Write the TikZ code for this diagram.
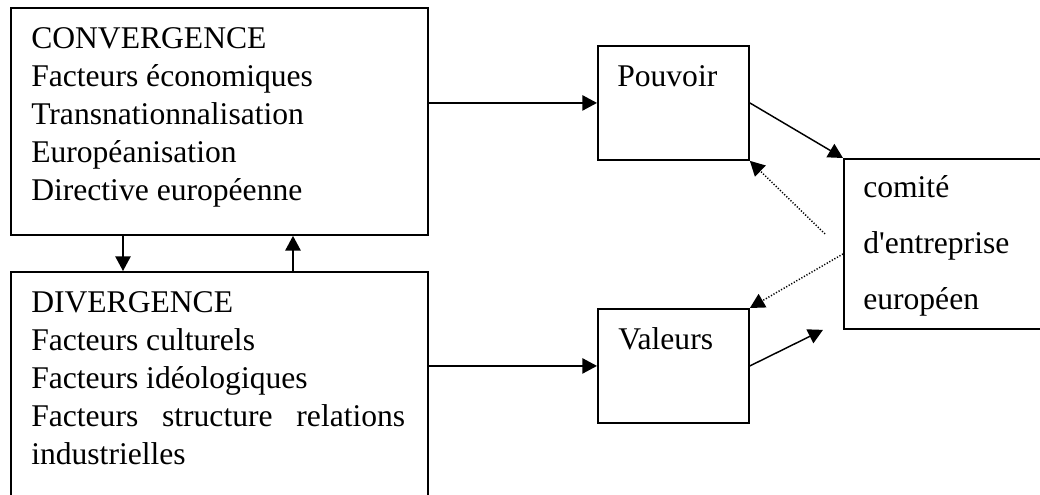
\documentclass[tikz,border=0pt]{standalone}
\usepackage{fontspec}
\setmainfont{Liberation Serif}
\usetikzlibrary{arrows.meta}

\begin{document}
\begin{tikzpicture}[x=0.75pt,y=0.75pt,yscale=-1,xscale=1,
  box/.style={draw, line width=1.4pt, anchor=north west, inner sep=0pt},
  txt/.style={anchor=north west, inner sep=0pt, align=left, font=\fontsize{23.7}{28.5}\selectfont},
  arr/.style={line width=1.1pt, -{Triangle[length=11pt,width=11.5pt]}},
  dotarr/.style={arr, line width=1.1pt, dash pattern=on 0.9pt off 1.3pt}]
\useasboundingbox (0,0) rectangle (1040,494);
\clip (0,0) rectangle (1040,494);

%Shape: Rectangle [convergence]
\node (conv) [box, minimum width=312.75pt, minimum height=170.25pt] at (10,7) {};
%Shape: Rectangle [divergence]
\node (div) [box, minimum width=312.75pt, minimum height=171.75pt] at (10,271) {};
%Shape: Rectangle [pouvoir]
\node (pouv) [box, minimum width=113.25pt, minimum height=85.5pt] at (597,45) {};
%Shape: Rectangle [valeurs]
\node (val) [box, minimum width=113.25pt, minimum height=85.5pt] at (597,308) {};
%Shape: Rectangle [comite]
\node (comite) [box, minimum width=155.25pt, minimum height=127.5pt] at (843,158) {};

% Text Node
\node (convtxt) [txt] at (31,27) {CONVERGENCE\\Facteurs économiques\\Transnationnalisation\\Européanisation\\Directive européenne};
% Text Node
\node (divtxt) [txt] at (31,291) {DIVERGENCE\\Facteurs culturels\\Facteurs idéologiques\\\makebox[280.5pt][s]{Facteurs structure relations}\\industrielles};
% Text Node
\node (pouvtxt) [txt] at (617,65) {Pouvoir};
% Text Node
\node (valtxt) [txt] at (618,327) {Valeurs};
% Text Node
\node (comtxt) [txt, font=\fontsize{23.7}{42}\selectfont] at (863,175) {comité\\d\textquotesingle entreprise\\européen};

%Straight Lines
\draw [arr] (conv.east |- pouv.west) -- (pouv.west);
\draw [arr] (div.east |- val.west) -- (val.west);
\draw [arr] ([xshift=84.75pt]conv.south west) -- ([xshift=84.75pt]div.north west);
\draw [arr] ([xshift=212.25pt]div.north west) -- ([xshift=212.25pt]conv.south west);
\draw [arr] (pouv.east) -- (comite.north west);
\coordinate (valend) at ([xshift=-15pt]comite.south west);
\draw [arr] (val.east) -- (valend);
%Dotted Lines
\draw [dotarr] ([shift={(-13.5pt,-7.5pt)}]comite.west) -- (pouv.south east);
\draw [dotarr] ([yshift=7.5pt]comite.west) -- (val.north east);

\end{tikzpicture}
\end{document}
